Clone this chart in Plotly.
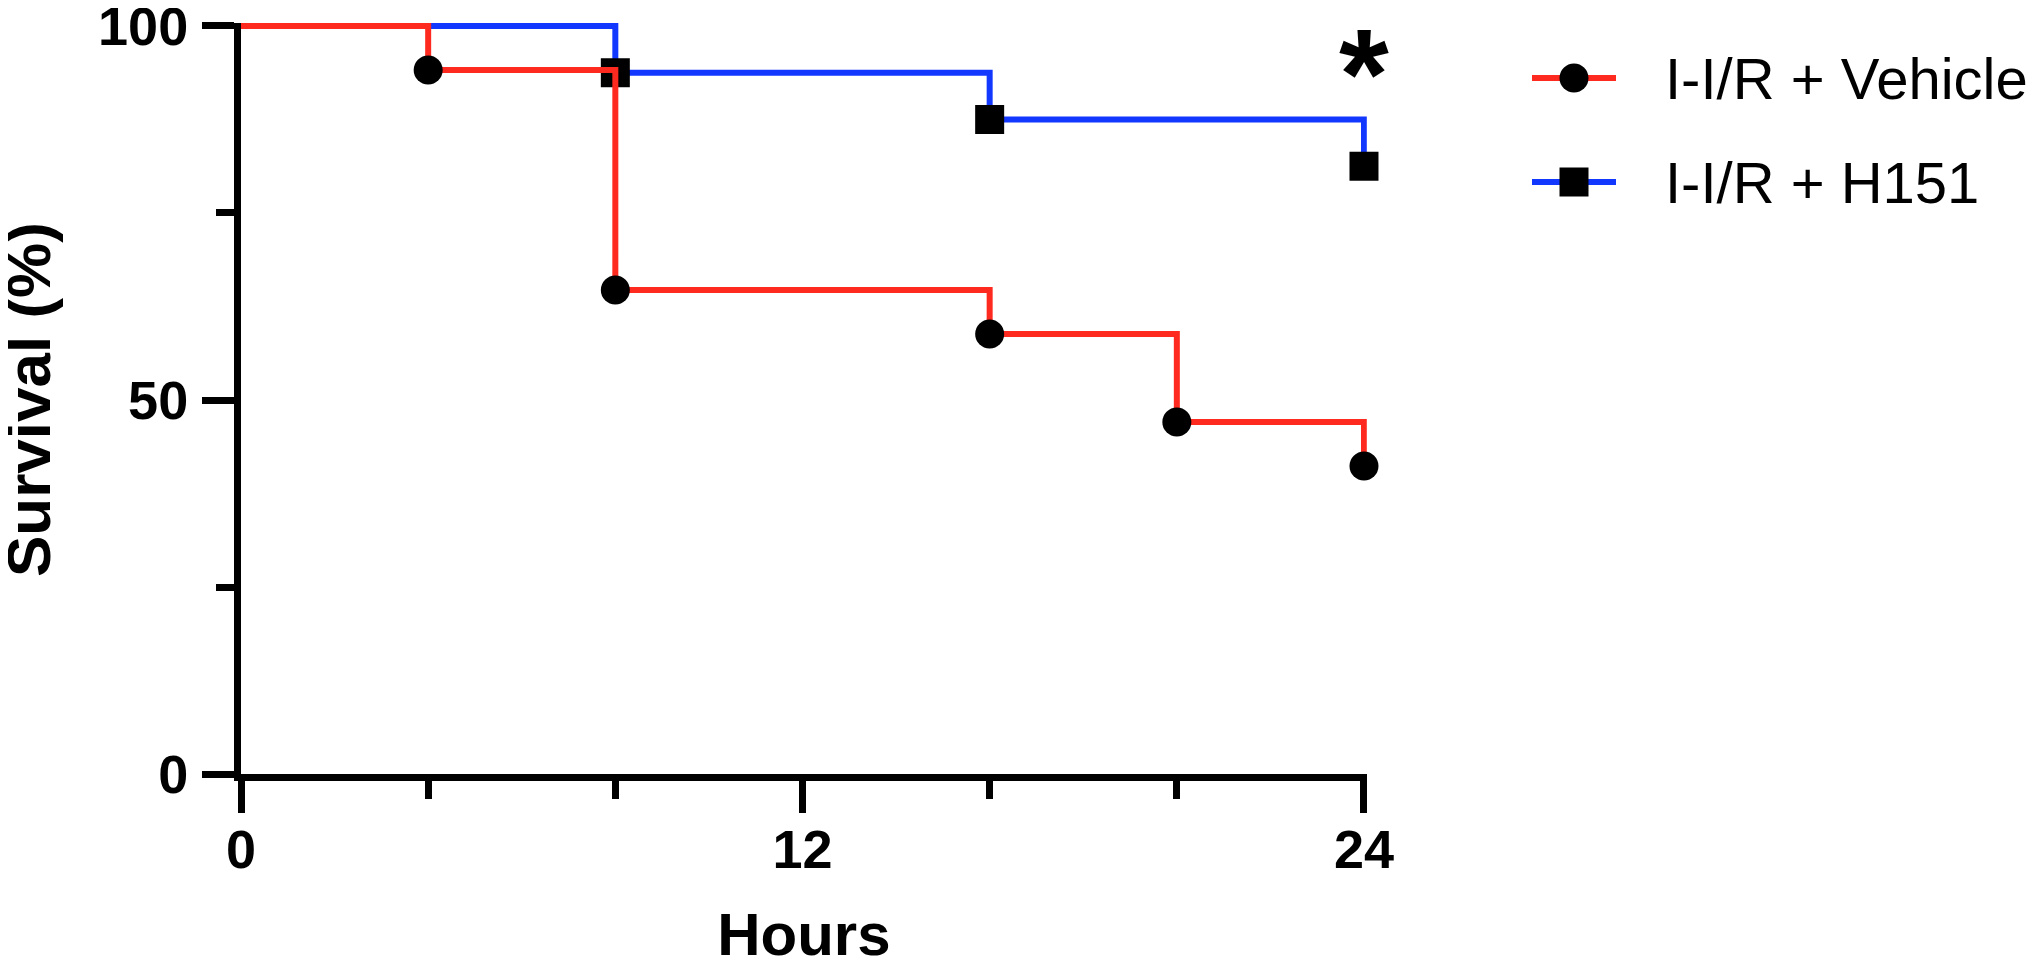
import plotly.graph_objects as go

# ---- data ----
hours_vehicle = [0, 4, 8, 16, 20, 24]
surv_vehicle = [100, 94.12, 64.71, 58.82, 47.06, 41.18]
hours_h151 = [0, 8, 16, 24]
surv_h151 = [100, 93.75, 87.5, 81.25]
series_names = ["I-I/R + Vehicle", "I-I/R + H151"]
x_tickvals = [0, 12, 24]
x_minor = [4, 8, 16, 20]
y_tickvals = [0, 50, 100]
y_minor = [25, 75]

RED = "#FF2A1F"
BLUE = "#1237FF"
FONT = "Liberation Sans, Arial, sans-serif"
# page body has an 8px margin; figure sized so the page is 2040x968
OFF = 8
W, H = 2040 - OFF, 968 - OFF


def px(xs):  # screen x pixel -> paper fraction
    return (xs - OFF) / W


def py(ys):  # screen y pixel -> paper fraction
    return 1 - (ys - OFF) / H


fig = go.Figure()

# H151 (drawn first, under vehicle)
fig.add_trace(go.Scatter(x=hours_h151, y=surv_h151, mode="lines", line=dict(color=BLUE, width=6, shape="hv"),
                         showlegend=False, hoverinfo="skip"))
fig.add_trace(go.Scatter(x=hours_h151[1:], y=surv_h151[1:], mode="markers",
                         marker=dict(symbol="square", size=29, color="black", line=dict(width=0)),
                         cliponaxis=False, showlegend=False))
# Vehicle
fig.add_trace(go.Scatter(x=hours_vehicle, y=surv_vehicle, mode="lines", line=dict(color=RED, width=6, shape="hv"),
                         showlegend=False, hoverinfo="skip"))
fig.add_trace(go.Scatter(x=hours_vehicle[1:], y=surv_vehicle[1:], mode="markers",
                         marker=dict(symbol="circle", size=29, color="black", line=dict(width=0)),
                         cliponaxis=False, showlegend=False))

# legend drawn on a hidden helper subplot
leg_rows = [1, 0]
leg_colors = [RED, BLUE]
leg_symbols = ["circle", "square"]
for row, col, sym in zip(leg_rows, leg_colors, leg_symbols):
    fig.add_trace(go.Scatter(x=[0, 1], y=[row, row], mode="lines", line=dict(color=col, width=6),
                             xaxis="x2", yaxis="y2", showlegend=False, hoverinfo="skip"))
    fig.add_trace(go.Scatter(x=[0.5], y=[row], mode="markers",
                             marker=dict(symbol=sym, size=29, color="black", line=dict(width=0)),
                             xaxis="x2", yaxis="y2", cliponaxis=False, showlegend=False, hoverinfo="skip"))
for row, name in zip(leg_rows, series_names):
    fig.add_annotation(x=px(1663), xref="paper", y=row, yref="y2", text=name, showarrow=False,
                       xanchor="left", yanchor="middle", font=dict(family=FONT, size=58, color="black"))

# significance asterisk
fig.add_annotation(x=24, xref="x", y=93.6, yref="y", text="<b>*</b>", showarrow=False,
                   xanchor="center", yanchor="middle", font=dict(family=FONT, size=128, color="black"))

# y-axis title placed explicitly (axis titles are clamped to the page edge)
fig.add_annotation(x=px(28), xref="paper", y=50, yref="y", text="<b>Survival (%)</b>", textangle=-90,
                   showarrow=False, xanchor="center", yanchor="middle",
                   font=dict(family=FONT, size=62, color="black"))

axis_common = dict(showline=True, linewidth=7, linecolor="black", showgrid=False, zeroline=False,
                   ticks="outside", ticklen=32, tickwidth=7, tickcolor="black",
                   tickfont=dict(family=FONT, size=54, color="black", weight="bold"),
                   ticklabeloverflow="allow", automargin=False, fixedrange=True)

fig.update_layout(
    width=W, height=H,
    margin=dict(l=0, r=0, t=0, b=0),
    paper_bgcolor="white", plot_bgcolor="white",
    showlegend=False,
    xaxis=dict(domain=[px(241), px(1366.8)], range=[0, 24.06], tickmode="array", tickvals=x_tickvals,
               ticklabelstandoff=-10,
               minor=dict(tickvals=x_minor, ticks="outside", ticklen=18, tickwidth=7, tickcolor="black"),
               title=dict(text="<b>Hours</b>", font=dict(family=FONT, size=60, color="black"), standoff=60),
               **axis_common),
    yaxis=dict(domain=[py(774), py(23)], range=[0, 100.4], tickmode="array", tickvals=y_tickvals,
               ticklabelstandoff=3,
               minor=dict(tickvals=y_minor, ticks="outside", ticklen=18, tickwidth=7, tickcolor="black"),
               **axis_common),
    xaxis2=dict(domain=[px(1532), px(1616)], range=[0, 1], visible=False, anchor="y2", fixedrange=True),
    yaxis2=dict(domain=[py(234), py(26)], range=[-0.5, 1.5], visible=False, anchor="x2", fixedrange=True),
)

fig.write_html("out.html")
